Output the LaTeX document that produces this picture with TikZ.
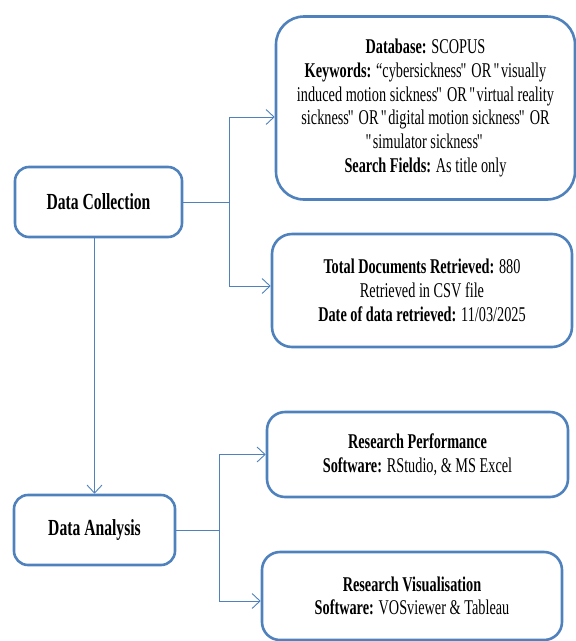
\documentclass[tikz,border=0pt]{standalone}
\usepackage{fontspec}
\setmainfont{Liberation Serif}[FakeStretch=0.68]
\usetikzlibrary{arrows.meta}
\definecolor{boxblue}{HTML}{4F81BD}
\newcommand{\qq}{\kern-1.2pt\textquotedbl\kern-1.2pt}

\begin{document}
\begin{tikzpicture}[%
      x=1pt, y=-1pt,
      box/.style={draw=boxblue, line width=2.6pt, rounded corners=14pt, align=center,
        inner sep=0pt, font=\fontsize{21}{23.7}\selectfont},
      head/.style={font=\fontsize{23}{26}\selectfont\bfseries},
      link/.style={draw=boxblue, line width=0.9pt},
      tip/.style={-{Straight Barb[length=8pt,width=15pt]}},
      ]
      \clip (0,0) rectangle (576,641);

      \node[box, head, minimum width=167pt, minimum height=70pt] (dc) at (98.5,202) {Data Collection};
      \node[box, head, minimum width=161pt, minimum height=70pt] (da) at (94.5,530) {Data Analysis};

      \node[box, rounded corners=28pt, minimum width=299pt, minimum height=183pt] (db) at (425.5,108)
        {\textbf{Database:} SCOPUS\\
         \textbf{Keywords:} “cybersickness\qq{} OR \qq{}visually\\
         induced motion sickness\qq{} OR \qq{}virtual reality\\
         sickness\qq{} OR \qq{}digital motion sickness\qq{} OR\\
         \qq{}simulator sickness\qq\\
         \textbf{Search Fields:} As title only};
      \node[box, rounded corners=20pt, minimum width=300pt, minimum height=113pt] (docs) at (422,290.5)
        {\textbf{Total Documents Retrieved:} 880\\
         Retrieved in CSV file\\
         \textbf{Date of data retrieved:} 11/03/2025};
      \node[box, rounded corners=18pt, minimum width=301pt, minimum height=85pt] (perf) at (417.5,454.5)
        {\textbf{Research Performance}\\
         \textbf{Software:} RStudio, \& MS Excel};
      \node[box, rounded corners=18pt, minimum width=300pt, minimum height=88pt] (vis) at (412,596)
        {\textbf{Research Visualisation}\\
         \textbf{Software:} VOSviewer \& Tableau};

      \coordinate (j1) at (229,202);
      \coordinate (j2) at (219,530);
      \draw[link] (dc.east) -- (j1);
      \draw[link, tip] (j1) |- ([yshift=-9pt]db.west);
      \draw[link, tip] (j1) |- ([yshift=4.5pt]docs.west);
      \draw[link, tip] (dc.south -| da.north) -- (da.north);
      \draw[link] (da.east) -- (j2);
      \draw[link, tip] (j2) |- (perf.west);
      \draw[link, tip] (j2) |- ([yshift=-5pt]vis.west);
\end{tikzpicture}
\end{document}
